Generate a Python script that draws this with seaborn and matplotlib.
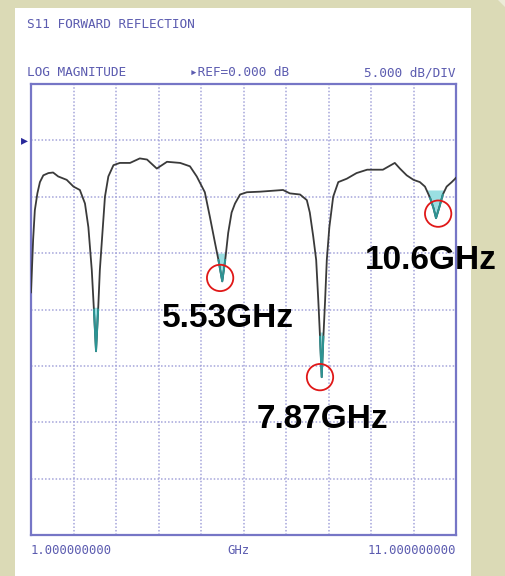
import matplotlib
matplotlib.use("Agg")
import matplotlib.pyplot as plt
import matplotlib.transforms as mtransforms
from matplotlib.patches import Rectangle, Polygon
import seaborn as sns
import pandas as pd
import numpy as np

# trace (GHz, dB)
freq_ghz = [1.00, 1.05, 1.09, 1.15, 1.21, 1.29, 1.41, 1.52, 1.64, 1.84,
            2.00, 2.15, 2.27, 2.35, 2.43, 2.48, 2.53, 2.58, 2.62, 2.69,
            2.74, 2.82, 2.94, 3.09, 3.33, 3.56, 3.73, 3.96, 4.20, 4.51,
            4.74, 4.90, 5.09, 5.21, 5.33, 5.41, 5.50, 5.57, 5.64, 5.72,
            5.80, 5.92, 6.08, 6.39, 6.93, 7.09, 7.33, 7.49, 7.56, 7.64,
            7.71, 7.76, 7.80, 7.84, 7.88, 7.92, 7.96, 8.02, 8.11, 8.23,
            8.43, 8.66, 8.91, 9.28, 9.56, 9.68, 9.84, 10.00, 10.15, 10.27,
            10.39, 10.47, 10.53, 10.61, 10.69, 10.78, 10.90, 10.98, 11.00]
s11_db = [-13.5, -8.8, -6.2, -4.7, -3.7, -3.1, -2.9, -2.85, -3.2, -3.5,
          -4.1, -4.4, -5.6, -7.7, -11.5, -15.0, -18.7, -15.0, -11.5, -7.7,
          -5.0, -3.2, -2.2, -2.0, -2.0, -1.6, -1.7, -2.5, -1.9, -2.0,
          -2.3, -3.2, -4.6, -6.8, -9.1, -10.6, -12.5, -10.6, -8.2, -6.4,
          -5.6, -4.8, -4.6, -4.55, -4.4, -4.7, -4.8, -5.3, -6.4, -8.5,
          -10.6, -14.2, -17.4, -21.0, -17.4, -14.2, -10.6, -7.7, -5.0, -3.7,
          -3.4, -2.9, -2.6, -2.6, -2.0, -2.5, -3.1, -3.5, -3.7, -4.1,
          -5.1, -6.0, -6.9, -5.9, -4.8, -4.1, -3.7, -3.4, -3.3]

# highlighted dip tips: window (GHz) and level below which it is shaded
tip_windows = [(2.3, 2.8), (5.2, 5.8), (7.6, 8.1), (10.3, 10.8)]
tip_levels = [-14.8, -10.0, -17.0, -4.4]

# circled resonances and their labels
mark_freq = [5.45, 7.80, 10.58]
mark_db = [-12.2, -21.0, -6.5]
mark_labels = ["5.53GHz", "7.87GHz", "10.6GHz"]
label_freq = [4.08, 6.32, 8.86]
label_db = [-15.8, -24.8, -10.65]

ref_db = 0.0
f_start, f_stop = 1.0, 11.0
db_top, db_bottom = 5.0, -35.0

screen_blue = "#5c5cb0"
grid_blue = "#a4a4da"
beige = "#dbdab6"

sns.set_style("white")
fig = plt.figure(figsize=(5.06, 5.76), dpi=100)
fig.patch.set_facecolor(beige)
# white screen panel + folded corner (behind the axes)
fig.patches.append(Rectangle((15 / 506, 0), (471 - 15) / 506, 1 - 8 / 576,
                             transform=fig.transFigure, facecolor="white",
                             edgecolor="none", zorder=-10))
fig.patches.append(Polygon([(498 / 506, 1), (1, 1), (1, 1 - 8 / 576)], closed=True,
                           transform=fig.transFigure, facecolor="#ecebd8",
                           edgecolor="none", zorder=-10))

ax = fig.add_axes([31 / 506, 1 - 535 / 576, 425 / 506, 451 / 576])
ax.set_facecolor("white")

df = pd.DataFrame({"freq": freq_ghz, "db": s11_db})
f = np.array(freq_ghz)
d = np.array(s11_db)
for (lo, hi), lvl in zip(tip_windows, tip_levels):
    sel = (f >= lo) & (f <= hi) & (d <= lvl)
    ax.fill_between(f, d, lvl, where=sel, interpolate=True,
                    color="#9adfe2", linewidth=0, zorder=2)

sns.lineplot(data=df, x="freq", y="db", ax=ax, color="#3a3a3a",
             linewidth=1.3, estimator=None, sort=False, zorder=3)

# teal colouring of the trace at the tips
for (lo, hi), lvl in zip(tip_windows, tip_levels):
    sel = (f >= lo) & (f <= hi) & (d <= lvl)
    tip = df[sel]
    sns.lineplot(data=tip, x="freq", y="db", ax=ax, color="#2c9494",
                 linewidth=1.4, estimator=None, sort=False, zorder=3.5)

sns.scatterplot(x=mark_freq, y=mark_db, ax=ax, s=360, facecolor="none",
                edgecolor="#e01818", linewidth=1.3, zorder=4)

for lf, ld, lab in zip(label_freq, label_db, mark_labels):
    ax.text(lf, ld, lab, fontsize=24, fontweight="bold", family="Liberation Sans",
            color="black", ha="left", va="center", clip_on=False, zorder=5)

ax.set_xlim(f_start, f_stop)
ax.set_ylim(db_bottom, db_top)
ax.set_xticks(np.arange(f_start, f_stop + 0.5, 1.0))
ax.set_yticks(np.arange(db_bottom, db_top + 0.5, 5.0))
ax.set_xticklabels([])
ax.set_yticklabels([])
ax.tick_params(length=0)
ax.set_xlabel("")
ax.set_ylabel("")
ax.grid(True, color=grid_blue, linestyle=(0, (1, 1.3)), linewidth=1.1)
for sp in ax.spines.values():
    sp.set_visible(True)
    sp.set_color("#7676c6")
    sp.set_linewidth(1.6)

# reference level marker
trans = mtransforms.blended_transform_factory(ax.transAxes, ax.transData)
ax.text(-0.008, ref_db, "▸", transform=trans, ha="right", va="center",
        fontsize=10, color="#28289a", family=["DejaVu Sans"], clip_on=False)

mono = {"family": ["DejaVu Sans Mono", "DejaVu Sans"], "color": screen_blue}
fig.text(27 / 506, 1 - 25 / 576, "S11 FORWARD REFLECTION", ha="left", va="center",
         fontsize=9.2, **mono)
fig.text(27 / 506, 1 - 73 / 576, "LOG MAGNITUDE", ha="left", va="center",
         fontsize=9.2, **mono)
fig.text(190 / 506, 1 - 73 / 576, "▸REF=0.000 dB", ha="left", va="center",
         fontsize=9.2, **mono)
fig.text(456 / 506, 1 - 73 / 576, "5.000 dB/DIV", ha="right", va="center",
         fontsize=9.2, **mono)
fig.text(31 / 506, 1 - 550 / 576, "1.000000000", ha="left", va="center",
         fontsize=8.8, **mono)
fig.text(238 / 506, 1 - 550 / 576, "GHz", ha="center", va="center",
         fontsize=8.8, **mono)
fig.text(456 / 506, 1 - 550 / 576, "11.000000000", ha="right", va="center",
         fontsize=8.8, **mono)

fig.savefig("out.png", dpi=100, facecolor=fig.get_facecolor())
